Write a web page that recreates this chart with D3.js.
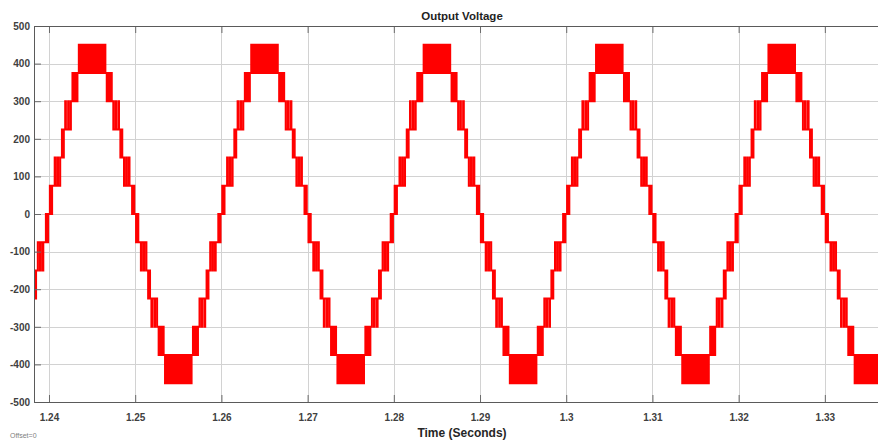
<!DOCTYPE html>
<html><head><meta charset="utf-8">
<script src="https://cdn.jsdelivr.net/npm/d3@7"></script>
<style>
body{margin:0;background:#fff;}
svg{display:block;font-family:"Liberation Sans",Arial,Helvetica,sans-serif;}
</style>
</head><body>
<svg id="c" width="878" height="441"></svg>
<script>
// ---- data ----
// rising zero crossings (s) of each visible cycle (period 0.02 s)
const cycleStarts = [1.22, 1.24, 1.26, 1.28, 1.30, 1.32];
// switching events for the rising quarter of a positive half-cycle:
// time after the zero crossing (ms) and the level (V) held from that time
const quarterTimes  = [0.00, 0.10, 0.16, 0.36,
                       0.66, 0.74, 0.98, 1.06, 1.30,
                       1.50, 1.58, 1.72,
                       1.88, 1.96, 2.22, 2.30, 2.54,
                       2.72, 2.80, 3.02, 3.10, 3.30,
                       3.46, 3.54, 3.70, 3.78, 3.94, 4.02, 4.18, 4.26, 4.42, 4.50, 4.66, 4.74, 4.90];
const quarterLevels = [0, 75, 0, 75,
                       150, 75, 150, 75, 150,
                       225, 150, 225,
                       300, 225, 300, 225, 300,
                       375, 300, 375, 300, 375,
                       450, 375, 450, 375, 450, 375, 450, 375, 450, 375, 450, 375, 450];
const quarterEnd = 5;      // ms (peak)
const halfPeriod = 10;     // ms
const xTicks = [1.24, 1.25, 1.26, 1.27, 1.28, 1.29, 1.30, 1.31, 1.32, 1.33];
const xTickLabels = ["1.24","1.25","1.26","1.27","1.28","1.29","1.3","1.31","1.32","1.33"];
const yTicks = [-500, -400, -300, -200, -100, 0, 100, 200, 300, 400, 500];
const yTickLabels = ["-500","-400","-300","-200","-100","0","100","200","300","400","500"];

// ---- layout ----
const L = 34, T = 26, B = 402, R = 890, VW = 878;
const svg = d3.select("#c");
const x = d3.scaleLinear().domain([1.23826, 1.33756]).range([L, R]);
const y = d3.scaleLinear().domain([-500, 500]).range([B, T]);

// grid
const grid = svg.append("g");
grid.selectAll("line.gx").data(xTicks).join("line")
  .attr("x1", d => Math.round(x(d)) + 0.5).attr("x2", d => Math.round(x(d)) + 0.5)
  .attr("y1", T).attr("y2", B).attr("stroke", "#d2d2d2").attr("stroke-width", 1);
grid.selectAll("line.gy").data(yTicks).join("line")
  .attr("y1", d => Math.round(y(d)) + 0.5).attr("y2", d => Math.round(y(d)) + 0.5)
  .attr("x1", L).attr("x2", R).attr("stroke", "#d2d2d2").attr("stroke-width", 1);

// build waveform segments
const quarterSegs = quarterTimes.map((t, i) => [t, i < quarterTimes.length - 1 ? quarterTimes[i + 1] : quarterEnd, quarterLevels[i]]);
const fallSegs = quarterSegs.slice().reverse().map(([a, b, v]) => [halfPeriod - b, halfPeriod - a, v]);
const posHalf = quarterSegs.concat(fallSegs);
const negHalf = posHalf.map(([a, b, v]) => [a + halfPeriod, b + halfPeriod, -v]);
const cycle = posHalf.concat(negHalf);
const pts = [];
cycleStarts.forEach(c0 => {
  cycle.forEach(([a, b, v]) => {
    pts.push([c0 + a / 1000, v]);
    pts.push([c0 + b / 1000, v]);
  });
});

svg.append("clipPath").attr("id", "pc").append("rect")
  .attr("x", L).attr("y", T - 2).attr("width", VW - L).attr("height", B - T + 4);
svg.append("path").datum(pts)
  .attr("clip-path", "url(#pc)")
  .attr("fill", "none").attr("stroke", "#ff0000").attr("stroke-width", 2)
  .attr("stroke-linejoin", "miter")
  .attr("d", d3.line().x(d => x(d[0])).y(d => y(d[1])));

// axes
const axCol = "#404040";
const gb = svg.append("g").attr("transform", `translate(0,${B})`)
  .call(d3.axisBottom(x).tickValues(xTicks).tickFormat((d, i) => xTickLabels[i])
    .tickSizeInner(-7).tickSizeOuter(0).tickPadding(11.4));
const gt = svg.append("g").attr("transform", `translate(0,${T})`)
  .call(d3.axisTop(x).tickValues(xTicks).tickFormat("").tickSizeInner(-7).tickSizeOuter(0));
const gl = svg.append("g").attr("transform", `translate(${L},0)`)
  .call(d3.axisLeft(y).tickValues(yTicks).tickFormat((d, i) => yTickLabels[i])
    .tickSizeInner(-7).tickSizeOuter(0).tickPadding(4));
[gb, gt, gl].forEach(g => {
  g.select(".domain").remove();
  g.selectAll(".tick line").attr("stroke", "#6a6a6a");
  g.selectAll("text").attr("fill", axCol).attr("font-size", 10).attr("font-weight", "bold")
    .attr("font-family", '"Liberation Sans",Arial,sans-serif');
});

// box
svg.append("path")
  .attr("d", `M${R},${T + 0.5}H${L + 0.5}V${B + 0.5}H${R}`)
  .attr("fill", "none").attr("stroke", "#5a5a5a").attr("stroke-width", 1);

// titles
svg.append("text").attr("x", 462).attr("y", 19.5).attr("text-anchor", "middle")
  .attr("font-size", 11.5).attr("font-weight", "bold").attr("fill", "#1f1f1f").text("Output Voltage");
svg.append("text").attr("x", 462).attr("y", 437).attr("text-anchor", "middle")
  .attr("font-size", 12).attr("font-weight", "bold").attr("fill", "#262626").text("Time (Seconds)");
svg.append("text").attr("x", 10).attr("y", 437.5)
  .attr("font-size", 7).attr("fill", "#808080").text("Offset=0");
</script>
</body></html>
